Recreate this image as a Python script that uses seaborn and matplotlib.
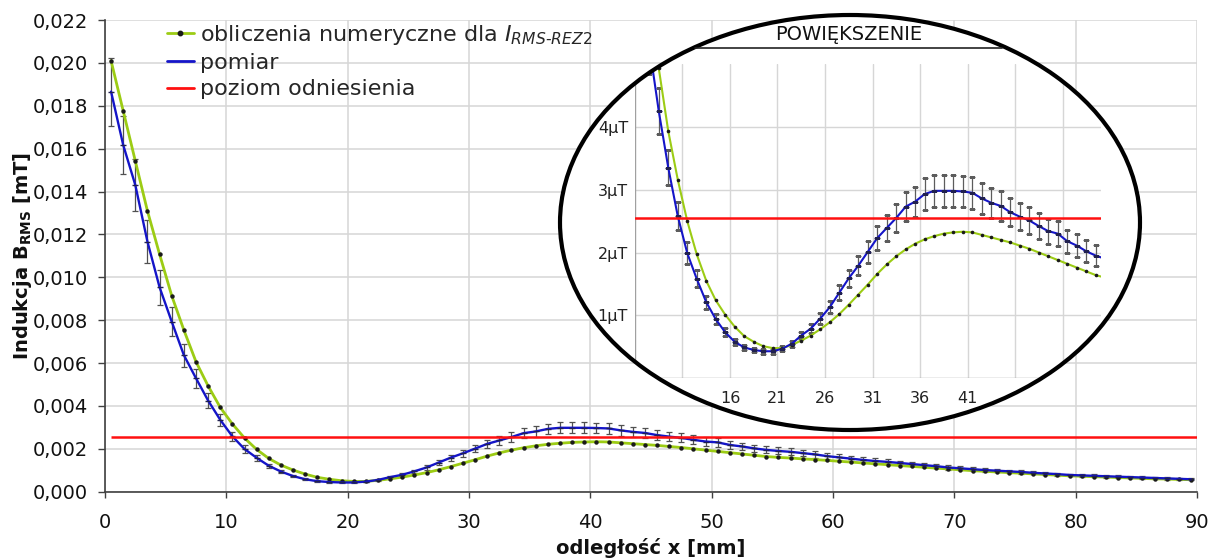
import numpy as np
import matplotlib
matplotlib.use("Agg")
import matplotlib.pyplot as plt
import seaborn as sns
from matplotlib.patches import Ellipse
from matplotlib.lines import Line2D
from matplotlib.ticker import FuncFormatter

# ---------------- data (values in microtesla) ----------------
x_mm = np.arange(0.5, 90.0, 1.0)   # measurement positions [mm]

b_numeric_uT = [
    20.10, 17.76, 15.42, 13.09, 11.07, 9.14, 7.54, 6.06, 4.93, 3.93,
    3.16, 2.50, 1.97, 1.55, 1.24, 1.01, 0.82, 0.67, 0.58, 0.51,
    0.48, 0.48, 0.53, 0.60, 0.68, 0.78, 0.89, 1.02, 1.17, 1.33,
    1.49, 1.66, 1.81, 1.94, 2.05, 2.14, 2.21, 2.26, 2.30, 2.32,
    2.33, 2.32, 2.28, 2.24, 2.20, 2.16, 2.11, 2.06, 2.00, 1.94,
    1.88, 1.82, 1.76, 1.70, 1.64, 1.60, 1.57, 1.53, 1.50, 1.46,
    1.42, 1.38, 1.34, 1.30, 1.26, 1.22, 1.18, 1.14, 1.10, 1.06,
    1.02, 0.98, 0.95, 0.92, 0.89, 0.86, 0.83, 0.80, 0.77, 0.74,
    0.72, 0.70, 0.68, 0.66, 0.64, 0.62, 0.60, 0.59, 0.57, 0.56,
]

b_measured_uT = [
    18.66, 16.17, 14.30, 11.66, 9.53, 7.93, 6.37, 5.29, 4.25, 3.35,
    2.58, 1.99, 1.58, 1.21, 0.94, 0.73, 0.58, 0.49, 0.45, 0.43,
    0.43, 0.47, 0.55, 0.68, 0.79, 0.95, 1.13, 1.36, 1.59, 1.79,
    2.01, 2.23, 2.39, 2.55, 2.73, 2.81, 2.93, 2.98, 2.98, 2.98,
    2.97, 2.95, 2.86, 2.79, 2.74, 2.64, 2.57, 2.51, 2.42, 2.34,
    2.30, 2.18, 2.11, 2.02, 1.95, 1.90, 1.86, 1.80, 1.74, 1.66,
    1.60, 1.54, 1.48, 1.43, 1.39, 1.34, 1.29, 1.24, 1.19, 1.13,
    1.09, 1.05, 1.01, 0.98, 0.95, 0.92, 0.88, 0.85, 0.82, 0.78,
    0.76, 0.74, 0.72, 0.70, 0.68, 0.66, 0.64, 0.62, 0.60, 0.58,
]

measurement_rel_uncertainty = 0.085     # +/- fraction shown by error bars
reference_level_uT = 2.55

x_ticks_main = [0, 10, 20, 30, 40, 50, 60, 70, 80, 90]
y_ticks_main_mT = [0.000, 0.002, 0.004, 0.006, 0.008, 0.010, 0.012,
                   0.014, 0.016, 0.018, 0.020, 0.022]
x_ticks_zoom = [11, 16, 21, 26, 31, 36, 41, 46, 51]
x_ticklabels_zoom = ["", "16", "21", "26", "31", "36", "41", "", ""]
y_ticks_zoom = [1, 2, 3, 4]
y_ticklabels_zoom = ["1\u00b5T", "2\u00b5T", "3\u00b5T", "4\u00b5T"]

legend_labels = [
    r"obliczenia numeryczne dla $I_{RMS\text{-}REZ2}$",
    "pomiar",
    "poziom odniesienia",
]

# ---------------- styling ----------------
sns.set_theme(style="whitegrid")
plt.rcParams["font.family"] = ["DejaVu Sans"]
plt.rcParams["mathtext.fontset"] = "dejavusans"

C_NUM = "#9ccc14"
C_MEAS = "#1414c8"
C_REF = "#ff1010"
C_ERR = "#505050"
C_GRID = "#d6d6d6"

W, H = 1215, 560
fig = plt.figure(figsize=(W / 100, H / 100), dpi=100)
fig.patch.set_facecolor("white")


def fx(px):
    return px / W


def fy(py):
    return 1 - py / H


num_mT = np.array(b_numeric_uT) / 1000.0
meas_mT = np.array(b_measured_uT) / 1000.0

# ---------------- main axes ----------------
ax = fig.add_axes([fx(105), fy(491.7), (1197 - 105) / W, (491.7 - 20) / H])
ax.set_facecolor("white")
ax.grid(True, color=C_GRID, lw=1.1)

ax.errorbar(x_mm, meas_mT, yerr=meas_mT * measurement_rel_uncertainty,
            fmt="none", ecolor=C_ERR, elinewidth=0.9, capsize=2.4,
            capthick=0.9, zorder=3)
sns.lineplot(x=x_mm, y=num_mT, ax=ax, color=C_NUM, lw=2.0, marker="o",
             markersize=3.2, markerfacecolor="k", markeredgecolor="k",
             markeredgewidth=0, legend=False, zorder=4)
sns.lineplot(x=x_mm, y=meas_mT, ax=ax, color=C_MEAS, lw=1.7, marker="_",
             markersize=4, markeredgecolor="#202050", markeredgewidth=1.0,
             legend=False, zorder=5)
ax.hlines(reference_level_uT / 1000.0, x_mm[0], 90, color=C_REF, lw=1.8,
          zorder=6)

ax.set_xlim(0, 90)
ax.set_ylim(0, 0.022)
ax.set_xticks(x_ticks_main)
ax.set_yticks(y_ticks_main_mT)
ax.yaxis.set_major_formatter(FuncFormatter(lambda v, p: f"{v:.3f}".replace(".", ",")))
for s in ["top", "right"]:
    ax.spines[s].set_visible(False)
for s in ["left", "bottom"]:
    ax.spines[s].set_color("#404040")
    ax.spines[s].set_linewidth(1.2)
ax.tick_params(axis="y", which="major", length=5, width=1, color="#404040",
               pad=7, labelsize=14, left=True, labelcolor="#111111")
ax.tick_params(axis="x", which="major", length=4.5, width=1, color="#404040",
               pad=11, labelsize=14, bottom=True, labelcolor="#111111")

ax.set_xlabel("odległość x [mm]", fontsize=14, fontweight="bold", color="#111111")
ax.xaxis.set_label_coords(0.5, (491.7 - 538) / 471.7)
ax.set_ylabel(r"Indukcja B$_{\mathregular{RMS}}$ [mT]", fontsize=14,
              fontweight="bold", color="#111111")
ax.yaxis.set_label_coords((34 - 105) / 1092, 0.5)

handles = [
    Line2D([], [], color=C_NUM, lw=2.0, marker="o", markersize=3.2,
           markerfacecolor="k", markeredgecolor="k"),
    Line2D([], [], color=C_MEAS, lw=2.0),
    Line2D([], [], color=C_REF, lw=2.0),
]
ax.legend(handles, legend_labels, loc="upper left",
          bbox_to_anchor=((167 - 105) / 1092, (491.7 - 23) / 471.7),
          frameon=False, fontsize=16, handlelength=1.2, handletextpad=0.3,
          labelspacing=0.28, borderpad=0, borderaxespad=0)

# ---------------- magnified inset inside ellipse ----------------
ell_fill = Ellipse((fx(850), fy(222.5)), 580 / W, 415 / H,
                   transform=fig.transFigure, facecolor="white",
                   edgecolor="none", zorder=2)
fig.add_artist(ell_fill)
ell_edge = Ellipse((fx(850), fy(222.5)), 580 / W, 415 / H,
                   transform=fig.transFigure, facecolor="none",
                   edgecolor="black", lw=3.0, zorder=5)
fig.add_artist(ell_edge)

axi = fig.add_axes([fx(635), fy(378.3), 465.5 / W, (378.3 - 63.8) / H])
axi.set_zorder(3)
axi.patch.set_visible(False)
axi.grid(True, color=C_GRID, lw=1.0)

axi.errorbar(x_mm, b_measured_uT,
             yerr=np.array(b_measured_uT) * measurement_rel_uncertainty,
             fmt="none", ecolor="#5c5c5c", elinewidth=0.9, capsize=2.2,
             capthick=0.9, zorder=3)
sns.lineplot(x=x_mm, y=b_numeric_uT, ax=axi, color=C_NUM, lw=1.5,
             marker="o", markersize=2.6, markerfacecolor="k",
             markeredgecolor="k", markeredgewidth=0, legend=False, zorder=4)
sns.lineplot(x=x_mm, y=b_measured_uT, ax=axi, color=C_MEAS, lw=1.5,
             marker="_", markersize=4, markeredgecolor="#202050",
             markeredgewidth=1.0, legend=False, zorder=5)
axi.axhline(reference_level_uT, color=C_REF, lw=1.8, zorder=6)

axi.set_xlim(6, 55)
axi.set_ylim(0, 5)
axi.set_xticks(x_ticks_zoom)
axi.set_xticklabels(x_ticklabels_zoom)
axi.set_yticks(y_ticks_zoom)
axi.set_yticklabels(y_ticklabels_zoom)
axi.set_xlabel("")
axi.set_ylabel("")
for s in ["top", "right"]:
    axi.spines[s].set_visible(False)
for s in ["left", "bottom"]:
    axi.spines[s].set_color("#a0a0a0")
    axi.spines[s].set_linewidth(1.0)
axi.tick_params(axis="both", length=4, width=1, color="#606060",
                labelsize=11.5, labelcolor="#222222")
axi.tick_params(axis="x", pad=5)
axi.tick_params(axis="y", pad=1)

# clip everything of the inset to the ellipse
for art in (list(axi.lines) + list(axi.collections) + list(axi.spines.values())
            + axi.get_xgridlines() + axi.get_ygridlines()):
    art.set_clip_path(ell_fill)
for t in axi.xaxis.get_major_ticks() + axi.yaxis.get_major_ticks():
    t.tick1line.set_clip_path(ell_fill)
    t.gridline.set_clip_path(ell_fill)

fig.text(fx(849), fy(40), "POWIĘKSZENIE", ha="center", va="baseline",
         fontsize=14, color="#111111", zorder=6)
fig.add_artist(Line2D([fx(695), fx(1002)], [fy(47.7), fy(47.7)],
                      transform=fig.transFigure, color="#222222", lw=1.2,
                      zorder=6))

fig.savefig("out.png", dpi=100, facecolor="white")
